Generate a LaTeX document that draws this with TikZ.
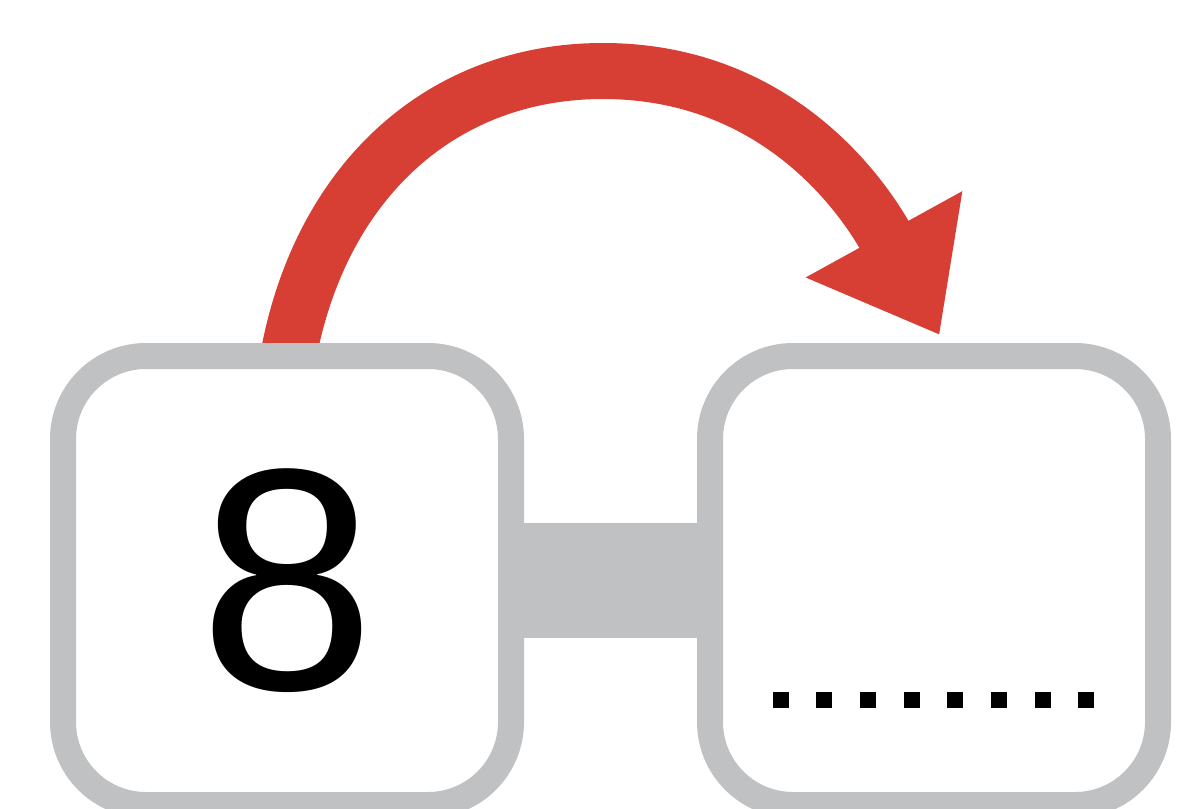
\documentclass[tikz,border=0pt]{standalone}
\usepackage{fontspec}
\setmainfont{Liberation Sans}
\usetikzlibrary{positioning,arrows.meta,backgrounds}

\definecolor{boxgray}{RGB}{192,193,195}
\definecolor{jumpred}{RGB}{215,62,52}

\begin{document}
\begin{tikzpicture}[
        box/.style={draw=boxgray, line width=0.26cm, rounded corners=0.83cm, fill=white, inner sep=0pt, minimum width=4.48cm, minimum height=4.49cm, font=\fontsize{90}{90}\selectfont},
        bar/.style={draw=boxgray, line width=1.15cm},
        jump/.style={draw=jumpred, line width=0.56cm, -{Triangle[length=1.15cm, width=1.71cm]}},
        blank/.style={fill=black}
    ]
        \useasboundingbox (0,0) rectangle (11.78,-8.08);

        \node[box] (given) at (2.87,-5.805) {8};
        \node[box, right=1.73cm of given] (answer) {};

        \foreach \i in {0,...,7}
            \fill[blank] ([shift={({-1.535+0.437*\i},-1.195)}]answer.center) ++(-0.08,-0.08) rectangle ++(0.16,0.16);

        \begin{scope}[on background layer]
            \draw[bar] (given.center) -- (answer.center);
            \draw[jump] ([yshift=-0.2cm]given.north) .. controls +(0.31,1.8) and +(-1.63,0) .. (6.03,-0.71)
                .. controls +(1.68,0) and +(-0.81,1.47) .. ([shift={(0.055,0.08)}]answer.north);
        \end{scope}
    \end{tikzpicture}
\end{document}
